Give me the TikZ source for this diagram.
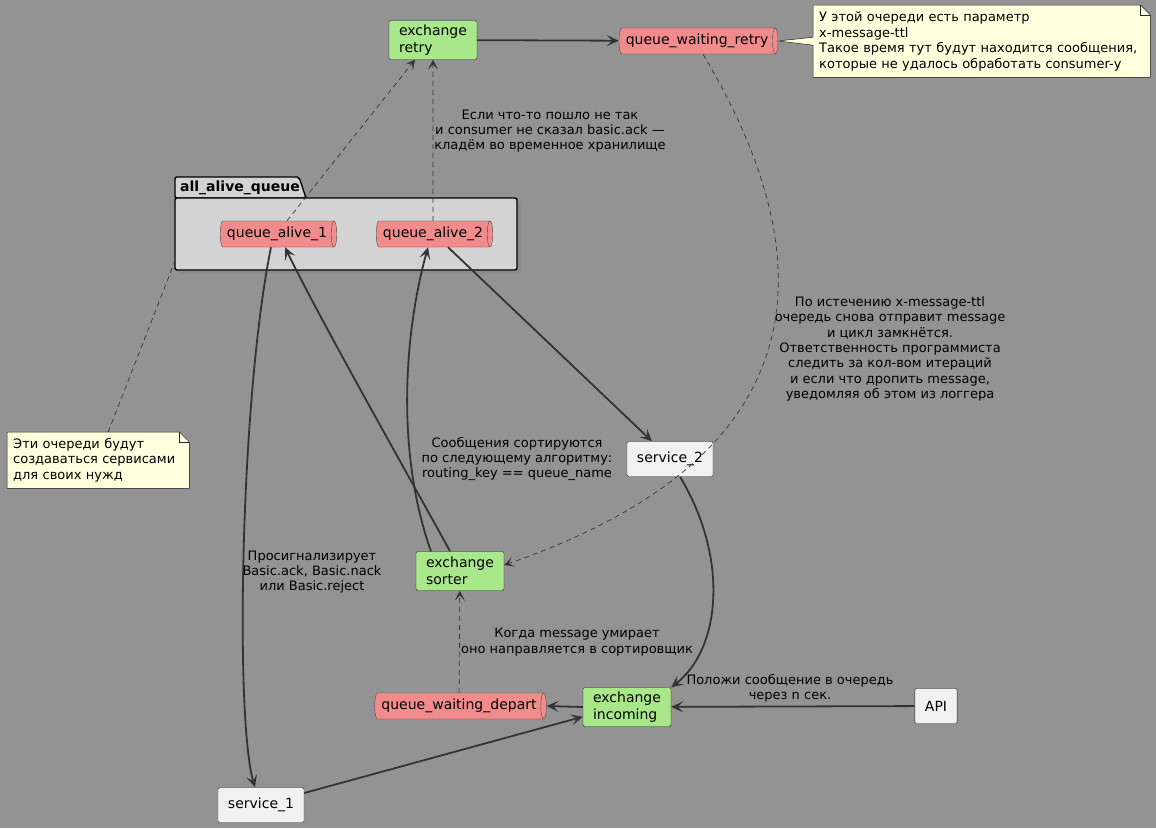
\documentclass[tikz,border=0pt]{standalone}
\usepackage{fontspec}
\setmainfont{DejaVu Sans}
\usetikzlibrary{arrows.meta,shapes.geometric}

\definecolor{bggray}{RGB}{147,147,147}
\definecolor{exgreen}{RGB}{168,232,138}
\definecolor{qpink}{RGB}{242,140,140}
\definecolor{pkggray}{RGB}{211,211,211}
\definecolor{svcwhite}{RGB}{241,241,241}
\definecolor{noteyellow}{RGB}{254,255,221}
\definecolor{linedark}{RGB}{51,51,51}

\tikzset{
  exchange/.style={draw=black!85, fill=exgreen, rounded corners=1.5pt, align=left,
    inner xsep=10pt, inner ysep=0pt, minimum height=39pt, font=\fontsize{14}{16.5}\selectfont},
  queue/.style={cylinder, draw=black!70, fill=qpink, aspect=0.4, minimum width=26pt,
    minimum height=26pt, inner xsep=4pt, inner ysep=0pt, font=\fontsize{14}{16}\selectfont},
  service/.style={draw=black!85, fill=svcwhite, rounded corners=1.5pt, inner xsep=10pt,
    inner ysep=0pt, minimum height=35pt, font=\fontsize{14}{16}\selectfont},
  notebox/.style={fill=noteyellow, align=left, anchor=north west, inner xsep=6pt,
    inner ysep=0pt, font=\fontsize{13}{15.5}\selectfont},
  notedraw/.style={draw=black!85, line width=0.5pt},
  lbl/.style={align=center, inner sep=0pt, font=\fontsize{13}{15.3}\selectfont},
  flow/.style={draw=linedark, line width=1.8pt, -{Stealth[length=12pt,width=11pt,inset=5.5pt]}},
  hint/.style={draw=linedark, line width=0.7pt, dash pattern=on 5pt off 4pt,
    -{Stealth[length=10pt,width=10pt,inset=5.5pt]}},
  hintline/.style={draw=linedark, line width=0.7pt, dash pattern=on 5pt off 4pt},
}

% note outline with a folded corner
\newcommand{\notecorner}[1]{%
  \fill[bggray] ([xshift=-10pt]#1.north east) -- (#1.north east) -- ([yshift=-10pt]#1.north east) -- cycle;
  \draw[notedraw] (#1.north west) -- ([xshift=-10pt]#1.north east) -- ([yshift=-10pt]#1.north east)
    -- (#1.south east) -- (#1.south west) -- cycle;
  \draw[notedraw] ([xshift=-10pt]#1.north east) |- ([yshift=-10pt]#1.north east);}

\begin{document}
\begin{tikzpicture}[x=1pt, y=-1pt]
  \fill[bggray] (0,0) rectangle (1156,828);
  \useasboundingbox (0,0) rectangle (1156,828);

  % package
  \fill[black!45] (179,202) rectangle (521,274);
  \draw[line width=1.4pt, fill=pkggray, rounded corners=2pt] (175,198) -- (175,177) -- (299,177) -- (306,198) -- cycle;
  \node[draw, line width=1.4pt, fill=pkggray, rounded corners=2pt, minimum width=342pt, minimum height=72pt] (pkg) at (346,234) {};
  \node[font=\fontsize{14}{16}\selectfont\bfseries, inner sep=0pt] (pkgtitle) at (240,188) {all\_alive\_queue};

  % nodes
  \node[exchange] (retry) at (433,40) {exchange\\retry};
  \node[queue] (qwr) at (697,41) {queue\_waiting\_retry};
  \node[queue] (qa1) at (277,234) {queue\_alive\_1};
  \node[queue] (qa2) at (433,234) {queue\_alive\_2};
  \node[service] (svc2) at (670,459) {service\_2};
  \node[exchange] (sorter) at (460,571) {exchange\\sorter};
  \node[queue] (depart) at (459,706) {queue\_waiting\_depart};
  \node[exchange] (incoming) at (627,707) {exchange\\incoming};
  \node[service] (api) at (936,706) {API};
  \node[service] (svc1) at (261,805) {service\_1};

  % notes
  \node[notebox, text width=325pt, minimum height=72pt] (ttlnote) at (813,5)
    {У этой очереди есть параметр\\x-message-ttl\\Такое время тут будут находится сообщения,\\которые не удалось обработать consumer-у};
  \notecorner{ttlnote}
  \fill[noteyellow] (qwr.east) -- ([xshift=1pt,yshift=4pt]ttlnote.west) -- ([xshift=1pt,yshift=-4pt]ttlnote.west) -- cycle;
  \draw[notedraw] ([yshift=4pt]ttlnote.west) -- (qwr.east) -- ([yshift=-4pt]ttlnote.west);

  \node[notebox, text width=170pt, minimum height=56pt] (svcnote) at (7,432)
    {Эти очереди будут\\создаваться сервисами\\для своих нужд};
  \notecorner{svcnote}
  \draw[hintline] ([xshift=10pt]svcnote.north) -- ([yshift=8pt]pkg.south west);

  % connectors
  \draw[flow] (retry) -- (qwr);
  \draw[hint] ([xshift=10pt]qa1.north) -- ([xshift=-18pt]retry.south);
  \draw[hint] (qa2) -- (retry);
  \draw[hint] ([xshift=6pt]qwr.south) .. controls (850,300) and (780,470) .. ([yshift=6pt]sorter.east);
  \draw[flow] ([xshift=-6pt]qa1.south) .. controls (240,400) and (235,720) .. ([xshift=-6pt]svc1.north);
  \draw[flow] ([xshift=-10pt]sorter.north) .. controls (425,505) and (320,320) .. ([xshift=8pt]qa1.south);
  \draw[flow] ([xshift=-29pt]sorter.north) .. controls (395,450) and (405,330) .. ([xshift=-5pt]qa2.south);
  \draw[flow] ([xshift=15pt]qa2.south) -- ([xshift=-18pt]svc2.north);
  \draw[flow] ([xshift=10pt]svc2.south) .. controls (730,560) and (720,650) .. (incoming.north east);
  \draw[flow] (api) -- (incoming);
  \draw[flow] (incoming.west) -- (depart.east);
  \draw[hint] (depart) -- (sorter);
  \draw[flow] ([yshift=12pt]svc1.east) -- ([yshift=10pt]incoming.south west);

  % labels
  \node[lbl] (retrylbl) at (550,131) {Если что-то пошло не так\\и consumer не сказал basic.ack —\\кладём во временное хранилище};
  \node[lbl] (ttllbl) at (890,349) {По истечению x-message-ttl\\очередь снова отправит message\\и цикл замкнётся.\\Ответственность программиста\\следить за кол-вом итераций\\и если что дропить message,\\уведомляя об этом из логгера};
  \node[lbl] (acklbl) at (312,572) {Просигнализирует\\Basic.ack, Basic.nack\\или Basic.reject};
  \node[lbl] (sortlbl) at (517,459) {Сообщения сортируются\\по следующему алгоритму:\\routing\_key == queue\_name};
  \node[lbl] (deadlbl) at (577,642) {Когда message умирает\\оно направляется в сортировщик};
  \node[lbl] (apilbl) at (790,688) {Положи сообщение в очередь\\через n сек.};
\end{tikzpicture}
\end{document}
